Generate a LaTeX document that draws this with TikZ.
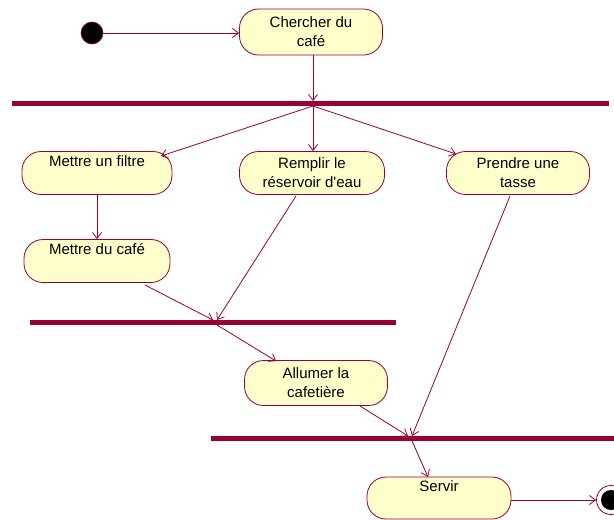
\documentclass[tikz,border=0pt]{standalone}
\usepackage{fontspec}
\setmainfont{Liberation Sans}
\usetikzlibrary{arrows.meta}
\definecolor{umlred}{RGB}{153,0,51}
\definecolor{umlfill}{RGB}{255,255,204}
\begin{document}
\begin{tikzpicture}[x=1pt,y=-1pt,
  act/.style={draw=umlred, fill=umlfill, rounded corners=19pt, line width=0.8pt,
    align=center, inner sep=0pt, minimum height=43pt, font=\fontsize{15}{19}\selectfont},
  bar/.style={fill=umlred, inner sep=0pt, minimum height=5pt},
  flow/.style={draw=umlred, line width=0.8pt, -{Straight Barb[length=6pt,width=9pt,line width=0.8pt]}}]
\useasboundingbox (0,0) rectangle (614,520);
% start / end
\node[circle, fill=black, draw=umlred, line width=0.6pt, minimum size=22pt, inner sep=0pt] (start) at (92,33) {};
\node[circle, fill=white, draw=umlred, line width=0.8pt, minimum size=29pt, inner sep=0pt] (end) at (611,500) {};
\node[circle, fill=black, minimum size=20pt, inner sep=0pt] (endin) at (611,500) {};
% activities
\node[act, minimum width=143pt, minimum height=46pt] (chercher) at (311,32) {Chercher du\\café};
\node[act, minimum width=150pt] (filtre) at (97,173) {Mettre un filtre\\\strut};
\node[act, minimum width=145pt] (remplir) at (312,173) {Remplir le\\réservoir d\textquotesingle eau};
\node[act, minimum width=143pt] (tasse) at (518,173) {Prendre une\\tasse};
\node[act, minimum width=146pt] (cafe) at (97,261) {Mettre du café\\\strut};
\node[act, minimum width=143pt, minimum height=45pt] (allumer) at (316,383) {Allumer la\\cafetière};
\node[act, minimum width=144pt, minimum height=42pt] (servir) at (439,498) {Servir\\\strut};
% bars
\node[bar, minimum width=597pt] (bar1) at (310.5,103.5) {};
\node[bar, minimum width=366pt] (bar2) at (213,322.5) {};
\node[bar, minimum width=404pt] (bar3) at (413,438.5) {};
% coordinates
\coordinate (b1in) at (313,101);
\coordinate (b1out) at (313,106);
\coordinate (filtreIn) at (161,156);
\coordinate (tasseIn) at (456,154);
\coordinate (b2inA) at (213,320);
\coordinate (b2inB) at (217,320);
\coordinate (b2out) at (217,325);
\coordinate (cafeOut) at (145,285);
\coordinate (remplirOut) at (296,196);
\coordinate (allumerIn) at (276,361);
\coordinate (allumerOut) at (360,406);
\coordinate (tasseOut) at (510,196);
\coordinate (b3inA) at (408,436);
\coordinate (b3inB) at (412,436);
\coordinate (b3out) at (412,441);
\coordinate (servirIn) at (428,477);
% flows
\draw[flow] (start) -- (chercher.west |- start);
\draw[flow] (chercher.south -| b1in) -- (b1in);
\draw[flow] (b1out) -- (filtreIn);
\draw[flow] (b1out) -- (remplir.north -| b1out);
\draw[flow] (b1out) -- (tasseIn);
\draw[flow] (filtre.south) -- (cafe.north);
\draw[flow] (cafeOut) -- (b2inA);
\draw[flow] (remplirOut) -- (b2inB);
\draw[flow] (b2out) -- (allumerIn);
\draw[flow] (allumerOut) -- (b3inA);
\draw[flow] (tasseOut) -- (b3inB);
\draw[flow] (b3out) -- (servirIn);
\draw[flow] (servir.east |- end) -- (end.west);
\end{tikzpicture}
\end{document}
